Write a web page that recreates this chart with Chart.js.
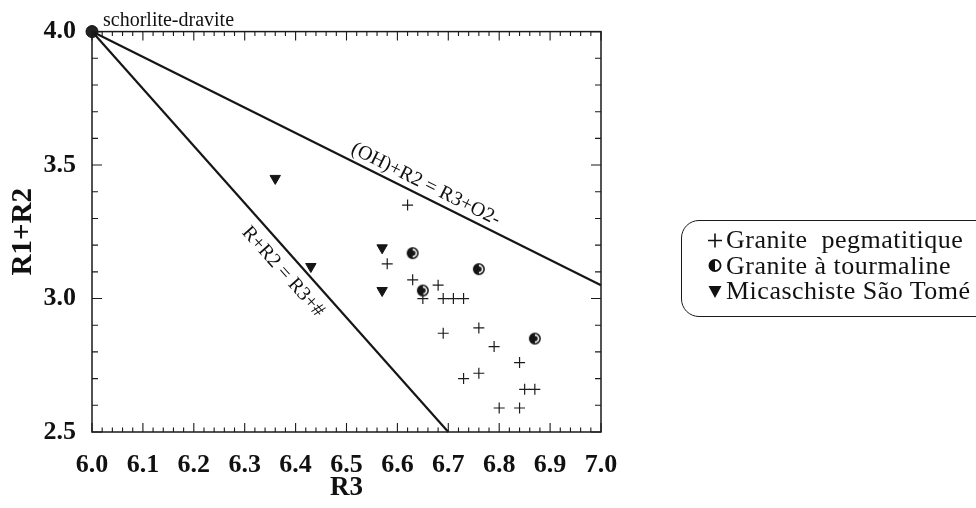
<!DOCTYPE html>
<html>
<head>
<meta charset="utf-8">
<script src="https://cdn.jsdelivr.net/npm/chart.js@4/dist/chart.umd.min.js"></script>
<style>
  html, body { margin: 0; padding: 0; background: #fff; }
  #wrap { position: relative; width: 976px; height: 508px; overflow: hidden; }
  #legend {
    position: absolute; left: 681px; top: 220px; width: 340px; height: 97px;
    box-sizing: border-box; border: 1.5px solid #1a1a1a; border-radius: 18px;
    padding: 6px 0 0 25px; font-family: "Liberation Serif", serif; font-size: 26px;
    line-height: 25.5px; letter-spacing: 0.5px; color: #111;
  }
  .row { display: flex; align-items: center; white-space: nowrap; height: 25.5px; }
  .row svg { margin-right: 3px; flex: none; }
</style>
</head>
<body>
<div id="wrap">
  <canvas id="chart" width="976" height="508"></canvas>
  <div id="legend">
    <div class="row"><svg width="16" height="16"><path d="M1 8.5H15M8 1.5V15.5" stroke="#111" stroke-width="1.6"/></svg><span>Granite&nbsp; pegmatitique</span></div>
    <div class="row"><svg width="16" height="16"><circle cx="8" cy="8.5" r="5.6" fill="#fff" stroke="#111" stroke-width="1.8"/><path d="M8 2.9A5.6 5.6 0 0 0 8 14.1Z" fill="#111"/></svg><span>Granite à tourmaline</span></div>
    <div class="row"><svg width="16" height="16"><path d="M1.5 3H14.5L8 15Z" fill="#111"/></svg><span>Micaschiste São Tomé</span></div>
  </div>
</div>
<script>
// Granite pegmatitique (+)
const pegR3 = [6.62, 6.58, 6.63, 6.68, 6.65, 6.69, 6.71, 6.73, 6.69, 6.76, 6.79, 6.84, 6.76, 6.73, 6.85, 6.87, 6.80, 6.84];
const pegR12 = [3.35, 3.13, 3.07, 3.05, 3.00, 3.00, 3.00, 3.00, 2.87, 2.89, 2.82, 2.76, 2.72, 2.70, 2.66, 2.66, 2.59, 2.59];
// Granite à tourmaline (half filled circles)
const tourR3 = [6.63, 6.76, 6.65, 6.87];
const tourR12 = [3.17, 3.11, 3.03, 2.85];
// Micaschiste São Tomé (triangles)
const micaR3 = [6.57, 6.57, 6.43, 6.36];
const micaR12 = [3.19, 3.03, 3.12, 3.45];
// substitution lines from schorlite-dravite end member
const ohLineR3 = [6.0, 7.0];
const ohLineR12 = [4.0, 3.05];
const rLineR3 = [6.0, 6.7];
const rLineR12 = [4.0, 2.5];
const endMember = { r3: 6.0, r12: 4.0, name: 'schorlite-dravite' };
const ohLabel = { text: '(OH)+R2 = R3+O2-', at: 6.645 };
const rLabel = { text: 'R+R2 = R3+#', at: 6.40 };

const pts = (xs, ys) => xs.map((x, i) => ({ x: x, y: ys[i] }));

// half filled circle marker
const halfDot = document.createElement('canvas');
halfDot.width = 14; halfDot.height = 14;
(function () {
  const g = halfDot.getContext('2d');
  g.fillStyle = '#fff';
  g.strokeStyle = '#151515';
  g.lineWidth = 1.6;
  g.beginPath(); g.arc(7, 7, 5.2, 0, Math.PI * 2); g.fill(); g.stroke();
  g.fillStyle = '#151515';
  g.beginPath(); g.arc(7, 7, 5.2, Math.PI * 0.5, Math.PI * 1.5); g.fill();
  g.beginPath(); g.arc(7, 7, 2.8, 0, Math.PI * 2); g.fill();
})();

const serif = '"Liberation Serif", "Times New Roman", serif';
const isTenth = v => Math.abs(v * 10 - Math.round(v * 10)) < 1e-6;
const isHalf = v => Math.abs(v * 2 - Math.round(v * 2)) < 1e-6;

const framePlugin = {
  id: 'frame',
  afterDatasetsDraw(chart) {
    const { ctx, chartArea: a, scales: { x, y } } = chart;
    ctx.save();
    ctx.strokeStyle = '#1a1a1a';
    ctx.lineWidth = 1.5;
    ctx.strokeRect(a.left, a.top, a.right - a.left, a.bottom - a.top);
    ctx.lineWidth = 1.1;
    ctx.beginPath();
    x.ticks.forEach(t => {
      const px = x.getPixelForValue(t.value);
      const len = isTenth(t.value) ? 9 : 4.5;
      ctx.moveTo(px, a.bottom); ctx.lineTo(px, a.bottom - len);
      ctx.moveTo(px, a.top); ctx.lineTo(px, a.top + len);
    });
    y.ticks.forEach(t => {
      const py = y.getPixelForValue(t.value);
      const len = isHalf(t.value) ? 10 : 6;
      ctx.moveTo(a.left, py); ctx.lineTo(a.left + len, py);
      ctx.moveTo(a.right, py); ctx.lineTo(a.right - len, py);
    });
    ctx.stroke();

    // annotations
    ctx.fillStyle = '#111';
    ctx.font = '20px ' + serif;
    ctx.textAlign = 'left';
    ctx.textBaseline = 'alphabetic';
    ctx.fillText(endMember.name, x.getPixelForValue(endMember.r3) + 11, y.getPixelForValue(endMember.r12) - 6);

    const along = (xs, ys, lbl, off) => {
      const x0 = x.getPixelForValue(xs[0]), y0 = y.getPixelForValue(ys[0]);
      const x1 = x.getPixelForValue(xs[1]), y1 = y.getPixelForValue(ys[1]);
      const ang = Math.atan2(y1 - y0, x1 - x0);
      const f = (lbl.at - xs[0]) / (xs[1] - xs[0]);
      const cx = x0 + (x1 - x0) * f + Math.sin(ang) * off;
      const cy = y0 + (y1 - y0) * f - Math.cos(ang) * off;
      ctx.save();
      ctx.translate(cx, cy);
      ctx.rotate(ang);
      ctx.textAlign = 'center';
      ctx.textBaseline = 'middle';
      ctx.fillText(lbl.text, 0, 0);
      ctx.restore();
    };
    along(ohLineR3, ohLineR12, ohLabel, 12);
    along(rLineR3, rLineR12, rLabel, -17);
    ctx.restore();
  }
};

new Chart(document.getElementById('chart'), {
  type: 'scatter',
  data: {
    datasets: [
      { label: 'oh', type: 'line', data: pts(ohLineR3, ohLineR12), borderColor: '#161616', borderWidth: 2.2, pointRadius: 0, fill: false, clip: false },
      { label: 'r', type: 'line', data: pts(rLineR3, rLineR12), borderColor: '#161616', borderWidth: 2.2, pointRadius: 0, fill: false, clip: false },
      { label: 'Granite pegmatitique', data: pts(pegR3, pegR12), pointStyle: 'cross', pointRadius: 5.5, borderColor: '#1c1c1c', borderWidth: 1.2 },
      { label: 'Granite à tourmaline', data: pts(tourR3, tourR12), pointStyle: halfDot },
      { label: 'Micaschiste São Tomé', data: pts(micaR3, micaR12), pointStyle: 'triangle', rotation: 180, pointRadius: 6, backgroundColor: '#151515', borderColor: '#151515', borderWidth: 1 },
      { label: 'end member', data: [{ x: endMember.r3, y: endMember.r12 }], pointStyle: 'circle', pointRadius: 6, backgroundColor: '#222', borderColor: '#111', borderWidth: 1, clip: false }
    ]
  },
  options: {
    responsive: false,
    animation: false,
    events: [],
    layout: { padding: { left: 0, top: 30, right: 375, bottom: 0 } },
    plugins: { legend: { display: false }, tooltip: { enabled: false } },
    scales: {
      x: {
        type: 'linear', min: 6.0, max: 7.0,
        afterFit: s => { s.height = 76; },
        grid: { display: false, drawTicks: false },
        border: { display: false },
        ticks: {
          stepSize: 0.02, autoSkip: false, maxRotation: 0, padding: 18,
          color: '#111', font: { family: serif, size: 26, weight: 'bold' },
          callback: v => isTenth(v) ? v.toFixed(1) : ''
        },
        title: { display: true, text: 'R3', color: '#111', padding: { top: 0, bottom: 4 }, font: { family: serif, size: 27, weight: 'bold' } }
      },
      y: {
        type: 'linear', min: 2.5, max: 4.0,
        afterFit: s => { s.width = 92; },
        grid: { display: false, drawTicks: false },
        border: { display: false },
        ticks: {
          stepSize: 0.1, autoSkip: false, padding: 16,
          color: '#111', font: { family: serif, size: 26, weight: 'bold' },
          callback: v => isHalf(v) ? v.toFixed(1) : ''
        },
        title: { display: true, text: 'R1+R2', color: '#111', padding: { top: 6, bottom: 0 }, font: { family: serif, size: 29, weight: 'bold' } }
      }
    }
  },
  plugins: [framePlugin]
});
</script>
</body>
</html>
